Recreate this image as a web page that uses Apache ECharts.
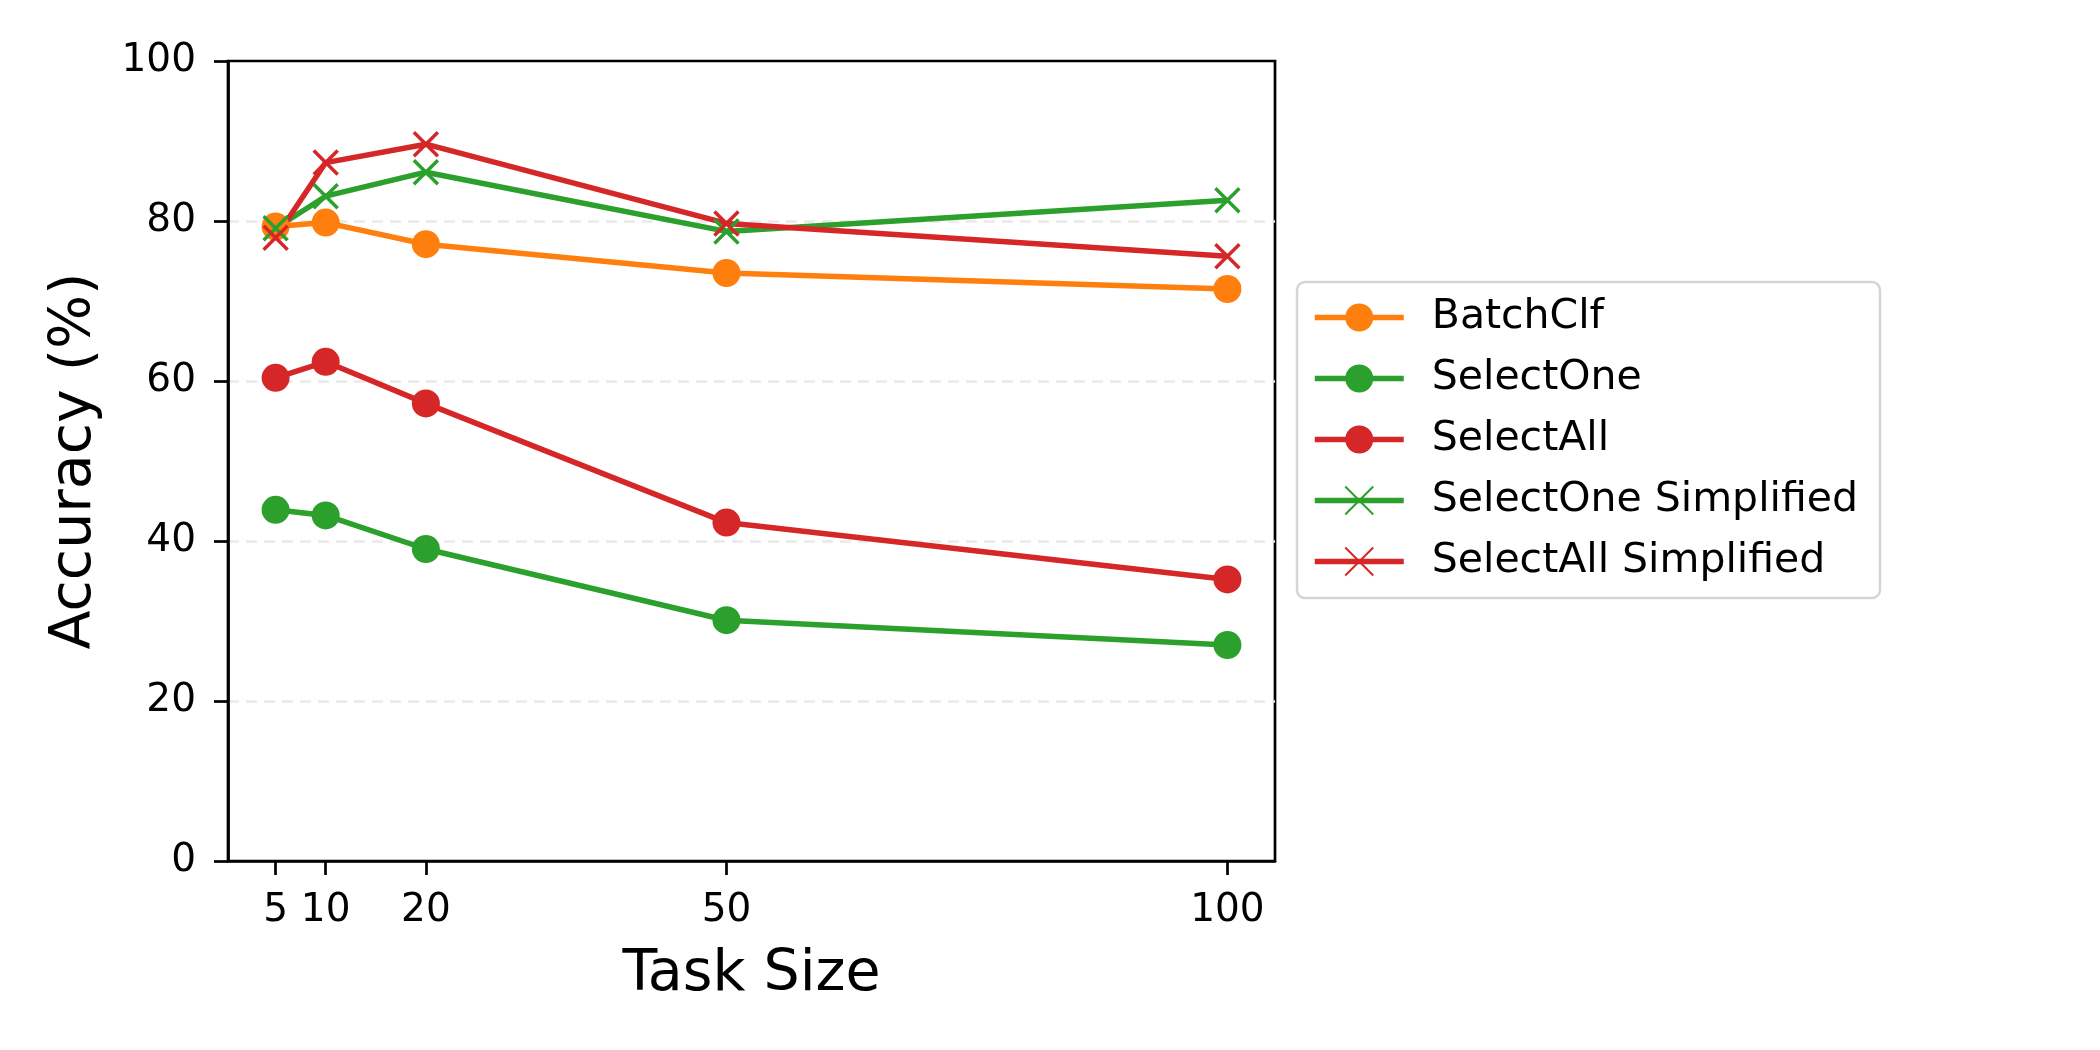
<!DOCTYPE html>
<html>
<head>
<meta charset="utf-8">
<script src="https://cdn.jsdelivr.net/npm/echarts@6/dist/echarts.min.js"></script>
<style>
html,body{margin:0;padding:0;background:#fff;}
#chart{width:2100px;height:1050px;}
</style>
</head>
<body>
<div id="chart"></div>
<script>
const taskSizes = [5, 10, 20, 50, 100];
const yTicks = [0, 20, 40, 60, 80, 100];
const seriesNames = ['BatchClf', 'SelectOne', 'SelectAll', 'SelectOne Simplified', 'SelectAll Simplified'];
const batchClf = [79.3, 79.8, 77.1, 73.5, 71.5];
const selectOne = [43.9, 43.2, 39.0, 30.1, 27.0];
const selectAll = [60.4, 62.4, 57.2, 42.3, 35.2];
const selectOneSimplified = [79.1, 83.1, 86.1, 78.7, 82.6];
const selectAllSimplified = [77.9, 87.3, 89.6, 79.7, 75.6];

const ORANGE = '#ff7f0e', GREEN = '#2ca02c', RED = '#d62728';
const FONT = 'DejaVu Sans';
const X_PATH = 'path://M0,0L10,10M10,0L0,10';

function pairs(vals) { return taskSizes.map((x, i) => [x, vals[i]]); }

function circleSeries(name, vals, color) {
  return {
    name: name, type: 'line', data: pairs(vals),
    symbol: 'circle', symbolSize: 28,
    lineStyle: { color: color, width: 5.5 },
    itemStyle: { color: color, borderWidth: 0 },
    emphasis: { disabled: true }, animation: false
  };
}
function crossSeries(name, vals, color) {
  return {
    name: name, type: 'line', data: pairs(vals),
    symbol: X_PATH, symbolSize: 24,
    lineStyle: { color: color, width: 5.5 },
    itemStyle: { color: color, borderColor: color, borderWidth: 3.5 },
    emphasis: { disabled: true }, animation: false
  };
}

const chart = echarts.init(document.getElementById('chart'), null, { renderer: 'canvas' });
chart.setOption({
  backgroundColor: '#ffffff',
  animation: false,
  textStyle: { fontFamily: FONT },
  grid: {
    left: 228, top: 61, width: 1047, height: 800,
    show: true, borderColor: '#000', borderWidth: 2.7, backgroundColor: 'transparent'
  },
  legend: {
    orient: 'vertical', left: 1297, top: 282,
    data: seriesNames,
    itemWidth: 89, itemHeight: 35, itemGap: 20,
    padding: [15, 22, 16, 15],
    backgroundColor: '#ffffff',
    borderColor: '#d5d5d5', borderWidth: 2.5, borderRadius: 8,
    lineStyle: { width: 5.5 },
    textStyle: { fontFamily: FONT, fontSize: 41, color: '#000', lineHeight: 41, padding: [0, 0, 0, 23] },
    selectedMode: false
  },
  xAxis: {
    type: 'value', min: 0.25, max: 104.75,
    name: 'Task Size', nameLocation: 'middle', nameGap: 86,
    nameTextStyle: { fontFamily: FONT, fontSize: 57, color: '#000' },
    axisLine: { show: true, onZero: false, lineStyle: { color: '#000', width: 2.7 } },
    axisTick: { show: true, customValues: taskSizes, length: 14, lineStyle: { color: '#000', width: 2.7 } },
    axisLabel: { customValues: taskSizes, margin: 30, fontFamily: FONT, fontSize: 39, color: '#000' },
    splitLine: { show: false }
  },
  yAxis: {
    type: 'value', min: 0, max: 100, interval: 20,
    name: 'Accuracy (%)', nameLocation: 'middle', nameGap: 124, nameRotate: 90,
    nameTextStyle: { fontFamily: FONT, fontSize: 57, color: '#000' },
    axisLine: { show: true, lineStyle: { color: '#000', width: 2.7 } },
    axisTick: { show: true, length: 14, lineStyle: { color: '#000', width: 2.7 } },
    axisLabel: { margin: 32, fontFamily: FONT, fontSize: 39, color: '#000',
      formatter: function (v) { return yTicks.indexOf(v) >= 0 ? String(v) : ''; } },
    splitLine: { show: true, showMinLine: false, showMaxLine: false,
      lineStyle: { color: '#e9e9e9', width: 2.5, type: [11, 7] } }
  },
  series: [
    circleSeries(seriesNames[0], batchClf, ORANGE),
    circleSeries(seriesNames[1], selectOne, GREEN),
    circleSeries(seriesNames[2], selectAll, RED),
    crossSeries(seriesNames[3], selectOneSimplified, GREEN),
    crossSeries(seriesNames[4], selectAllSimplified, RED)
  ]
});
</script>
</body>
</html>
